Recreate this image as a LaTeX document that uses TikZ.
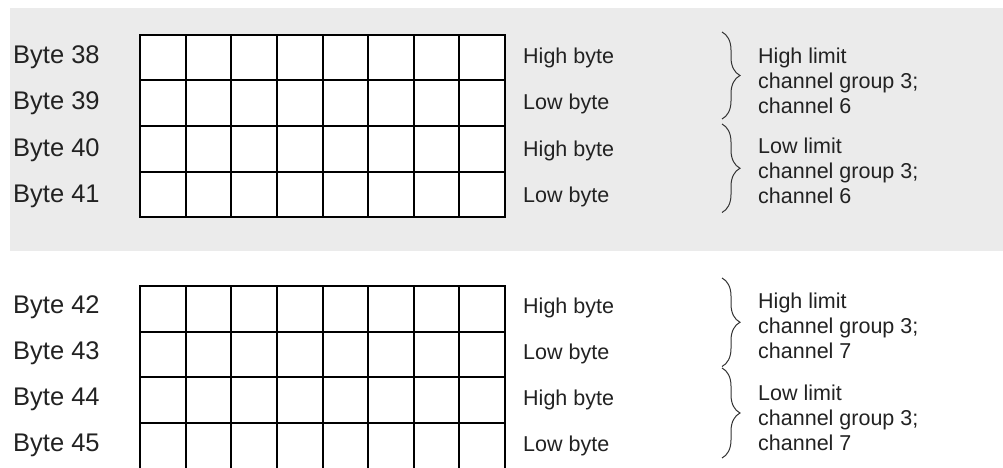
\documentclass[tikz,border=0pt]{standalone}
\usepackage{fontspec}
\setmainfont{Liberation Sans}
\usetikzlibrary{decorations.pathreplacing}
\definecolor{panelgray}{HTML}{EBEBEB}
\definecolor{txt}{HTML}{222222}
\definecolor{bracecol}{HTML}{333333}
\begin{document}
\begin{tikzpicture}[x=1pt,y=-1pt,
  bytelabel/.style={anchor=base west,inner sep=0pt,text=txt,font=\fontsize{25.5}{30}\selectfont},
  hilo/.style={anchor=base west,inner sep=0pt,text=txt,font=\fontsize{21.5}{25}\selectfont},
  limtext/.style={anchor=base west,inner sep=0pt,text=txt,font=\fontsize{21.5}{25}\selectfont},
  gridline/.style={line width=2pt,black},
  bracestyle/.style={decorate,decoration={brace,amplitude=18pt},line width=1pt,draw=bracecol}]
\useasboundingbox (0,0) rectangle (1003,468);
\fill[white] (0,0) rectangle (1003,468);
% gray panel
\fill[panelgray] (10,8) rectangle (1003,250.5);
% grid 1
\fill[white] (140,35) rectangle (505,217);
\foreach \i in {0,...,8} {\draw[gridline] ({140+45.625*\i},35) -- ({140+45.625*\i},217);}
\foreach \j in {0,...,4} {\draw[gridline] (139,{35+45.5*\j}) -- (506,{35+45.5*\j});}
% grid 2
\fill[white] (140,286) rectangle (505,470);
\foreach \i in {0,...,8} {\draw[gridline] ({140+45.625*\i},286) -- ({140+45.625*\i},472);}
\foreach \j in {0,...,3} {\draw[gridline] (139,{286+45.5*\j}) -- (506,{286+45.5*\j});}
% byte labels
\node[bytelabel] (b38) at (13,64) {Byte 38};
\node[bytelabel] (b39) at (13,110) {Byte 39};
\node[bytelabel] (b40) at (13,156) {Byte 40};
\node[bytelabel] (b41) at (13,202) {Byte 41};
\node[bytelabel] (b42) at (13,313) {Byte 42};
\node[bytelabel] (b43) at (13,359) {Byte 43};
\node[bytelabel] (b44) at (13,405) {Byte 44};
\node[bytelabel] (b45) at (13,451) {Byte 45};
% high/low byte
\node[hilo] (h38) at (523,64) {High byte};
\node[hilo] (l39) at (523,110) {Low byte};
\node[hilo] (h40) at (523,156) {High byte};
\node[hilo] (l41) at (523,202) {Low byte};
\node[hilo] (h42) at (523,313) {High byte};
\node[hilo] (l43) at (523,359) {Low byte};
\node[hilo] (h44) at (523,405) {High byte};
\node[hilo] (l45) at (523,451) {Low byte};
% braces
\coordinate (br1t) at (722,32);  \coordinate (br1b) at (722,119);
\coordinate (br2t) at (722,124); \coordinate (br2b) at (722,212.5);
\coordinate (br3t) at (722,278); \coordinate (br3b) at (722,366.5);
\coordinate (br4t) at (722,368); \coordinate (br4b) at (722,458);
\draw[bracestyle] (br1t) -- (br1b);
\draw[bracestyle] (br2t) -- (br2b);
\draw[bracestyle] (br3t) -- (br3b);
\draw[bracestyle] (br4t) -- (br4b);
% limit texts
\node[limtext] (hl6) at (758,63.5) {\vtop{\hbox{High limit}\hbox{channel group 3;}\hbox{channel 6}}};
\node[limtext] (ll6) at (758,153.5) {\vtop{\hbox{Low limit}\hbox{channel group 3;}\hbox{channel 6}}};
\node[limtext] (hl7) at (758,308.5) {\vtop{\hbox{High limit}\hbox{channel group 3;}\hbox{channel 7}}};
\node[limtext] (ll7) at (758,400) {\vtop{\hbox{Low limit}\hbox{channel group 3;}\hbox{channel 7}}};
\end{tikzpicture}
\end{document}
